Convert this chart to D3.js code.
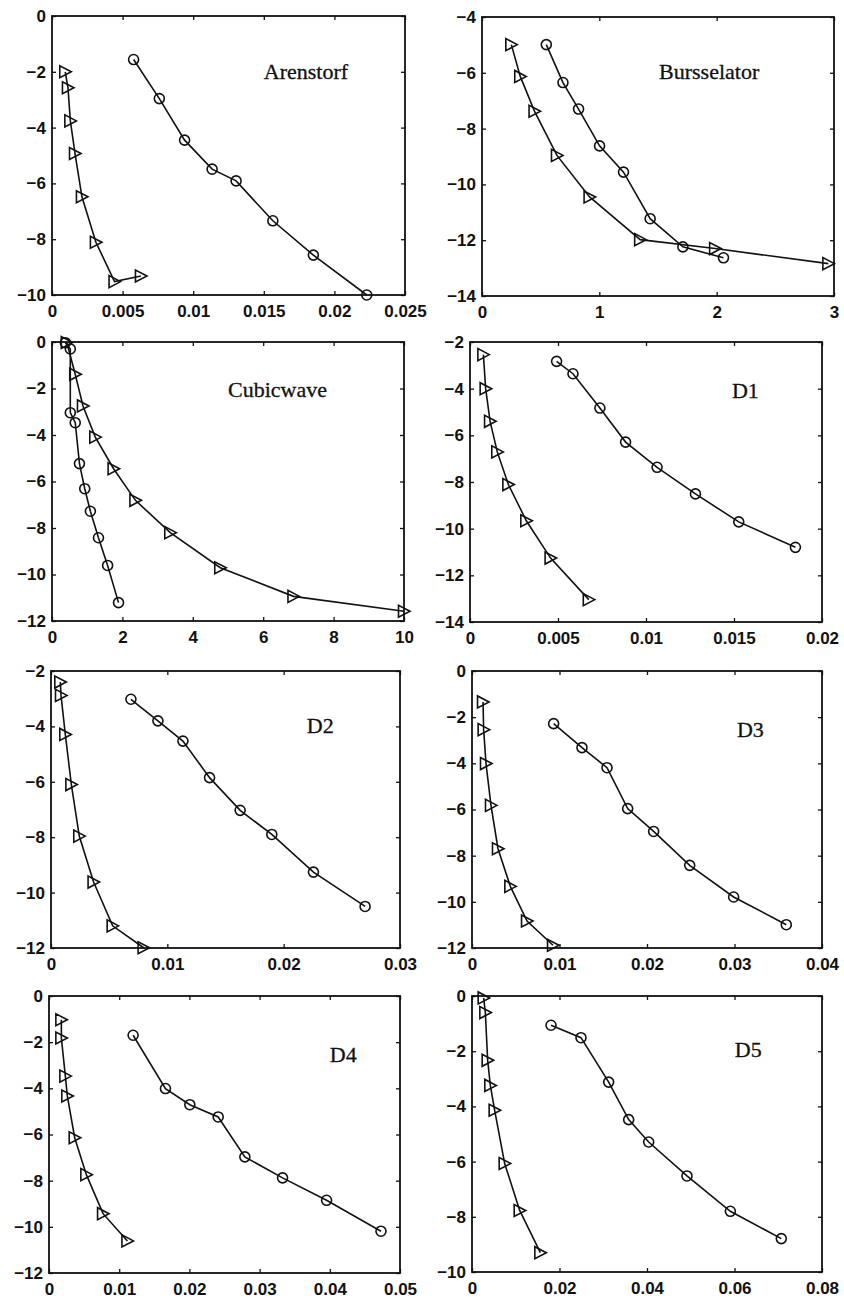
<!DOCTYPE html>
<html>
<head>
<meta charset="utf-8">
<script src="https://cdn.jsdelivr.net/npm/d3@7"></script>
<style>
  body { margin: 0; background: #fff; }
  .tick text { font-family: "Liberation Sans", Arial, sans-serif; font-size: 17px; font-weight: bold; fill: #111; }
  .label { font-family: "Liberation Serif", "Times New Roman", serif; font-size: 22px; fill: #111; stroke: #111; stroke-width: 0.3px; }
</style>
</head>
<body>
<svg id="chart"></svg>
<script>
// panel titles
var panelNames = ["Arenstorf", "Bursselator", "Cubicwave", "D1", "D2", "D3", "D4", "D5"];

// axis ranges and ticks, one per panel
var xDomains = [[0, 0.025], [0, 3], [0, 10], [0, 0.02], [0, 0.03], [0, 0.04], [0, 0.05], [0, 0.08]];
var yDomains = [[-10, 0], [-14, -4], [-12, 0], [-14, -2], [-12, -2], [-12, 0], [-12, 0], [-10, 0]];
var xTicks = [
  [0, 0.005, 0.01, 0.015, 0.02, 0.025],
  [0, 1, 2, 3],
  [0, 2, 4, 6, 8, 10],
  [0, 0.005, 0.01, 0.015, 0.02],
  [0, 0.01, 0.02, 0.03],
  [0, 0.01, 0.02, 0.03, 0.04],
  [0, 0.01, 0.02, 0.03, 0.04, 0.05],
  [0, 0.02, 0.04, 0.06, 0.08]
];
var yTicks = [
  [-10, -8, -6, -4, -2, 0],
  [-14, -12, -10, -8, -6, -4],
  [-12, -10, -8, -6, -4, -2, 0],
  [-14, -12, -10, -8, -6, -4, -2],
  [-12, -10, -8, -6, -4, -2],
  [-12, -10, -8, -6, -4, -2, 0],
  [-12, -10, -8, -6, -4, -2, 0],
  [-10, -8, -6, -4, -2, 0]
];

// series: [x, y] pairs, "o" and ">" markers
var arenstorfCircles = [[0.00578,-1.56],[0.0076,-2.96],[0.00939,-4.45],[0.01134,-5.49],[0.01304,-5.91],[0.01564,-7.34],[0.01851,-8.57],[0.02229,-10.0]];
var arenstorfTriangles = [[0.00094,-2.0],[0.00113,-2.57],[0.0013,-3.76],[0.00163,-4.93],[0.00212,-6.48],[0.00311,-8.11],[0.00443,-9.52],[0.0063,-9.32]];

var bursselatorCircles = [[0.548,-4.99],[0.69,-6.35],[0.823,-7.30],[1.002,-8.62],[1.206,-9.56],[1.433,-11.23],[1.712,-12.24],[2.058,-12.63]];
var bursselatorTriangles = [[0.25,-4.99],[0.326,-6.13],[0.448,-7.38],[0.639,-8.96],[0.917,-10.45],[1.348,-11.98],[1.987,-12.30],[2.952,-12.84]];

var cubicwaveCircles = [[0.38,-0.03],[0.52,-0.3],[0.52,-3.04],[0.66,-3.47],[0.78,-5.23],[0.93,-6.31],[1.09,-7.28],[1.32,-8.42],[1.58,-9.61],[1.89,-11.21]];
var cubicwaveTriangles = [[0.42,-0.02],[0.66,-1.39],[0.88,-2.75],[1.23,-4.09],[1.75,-5.45],[2.37,-6.81],[3.36,-8.2],[4.78,-9.71],[6.86,-10.94],[10.0,-11.58]];

var d1Circles = [[0.00492,-2.83],[0.00585,-3.36],[0.00738,-4.83],[0.00884,-6.29],[0.01063,-7.37],[0.01281,-8.51],[0.01527,-9.71],[0.01849,-10.8]];
var d1Triangles = [[0.00076,-2.54],[0.00089,-4.0],[0.00114,-5.4],[0.00155,-6.71],[0.00218,-8.11],[0.0032,-9.66],[0.00458,-11.26],[0.00675,-13.04]];

var d2Circles = [[0.00687,-3.02],[0.00919,-3.8],[0.01134,-4.53],[0.01363,-5.85],[0.01626,-7.03],[0.01898,-7.9],[0.02256,-9.26],[0.027,-10.5]];
var d2Triangles = [[0.0008,-2.4],[0.00086,-2.88],[0.00123,-4.29],[0.00175,-6.1],[0.00243,-7.96],[0.00366,-9.62],[0.0053,-11.2],[0.00796,-11.99]];

var d3Circles = [[0.00933,-2.28],[0.01257,-3.32],[0.01543,-4.19],[0.01779,-5.96],[0.02076,-6.95],[0.02488,-8.42],[0.0299,-9.79],[0.03592,-10.99]];
var d3Triangles = [[0.00126,-1.34],[0.00133,-2.54],[0.0016,-4.01],[0.00217,-5.82],[0.00297,-7.7],[0.00438,-9.33],[0.00629,-10.83],[0.00926,-11.88]];

var d4Circles = [[0.01198,-1.7],[0.01659,-4.01],[0.02006,-4.71],[0.0241,-5.24],[0.0279,-6.97],[0.03327,-7.88],[0.03954,-8.85],[0.04729,-10.19]];
var d4Triangles = [[0.00176,-1.03],[0.00176,-1.82],[0.00233,-3.47],[0.00261,-4.33],[0.00366,-6.14],[0.00532,-7.74],[0.0077,-9.43],[0.01117,-10.61]];

var d5Circles = [[0.01806,-1.06],[0.02491,-1.51],[0.03124,-3.12],[0.03581,-4.48],[0.04038,-5.29],[0.04914,-6.52],[0.05905,-7.8],[0.0707,-8.79]];
var d5Triangles = [[0.00267,-0.07],[0.00305,-0.6],[0.00358,-2.33],[0.00419,-3.24],[0.00518,-4.14],[0.00747,-6.07],[0.0109,-7.77],[0.01562,-9.3]];

var circleSeries = [arenstorfCircles, bursselatorCircles, cubicwaveCircles, d1Circles, d2Circles, d3Circles, d4Circles, d5Circles];
var triangleSeries = [arenstorfTriangles, bursselatorTriangles, cubicwaveTriangles, d1Triangles, d2Triangles, d3Triangles, d4Triangles, d5Triangles];

// layout: axes box [left, top, right, bottom] in px, label position as fraction of box
var boxes = [
  [52, 16, 405, 295], [482, 17, 834, 296],
  [52, 342, 404, 621], [470, 342, 822, 622],
  [51, 671, 400, 948], [472, 671, 822, 948],
  [49, 996, 400, 1273], [472, 996, 822, 1272]
];
var labelPos = [[0.60, 0.226], [0.503, 0.222], [0.50, 0.197], [0.744, 0.20], [0.733, 0.224], [0.757, 0.238], [0.80, 0.238], [0.751, 0.221]];

var svg = d3.select("#chart")
  .attr("width", 844)
  .attr("height", 1300)
  .style("background", "#fff");

var fmt = d3.format("~g");

panelNames.forEach(function(name, i)
{
  var b = boxes[i];
  var w = b[2] - b[0], h = b[3] - b[1];

  var x = d3.scaleLinear().domain(xDomains[i]).range([0, w]);
  var y = d3.scaleLinear().domain(yDomains[i]).range([h, 0]);

  var g = svg.append("g").attr("transform", "translate(" + b[0] + "," + b[1] + ")");

  // MATLAB style: inward ticks on all four sides
  g.append("g").attr("transform", "translate(0," + h + ")")
    .call(d3.axisBottom(x).tickValues(xTicks[i]).tickSize(-4).tickPadding(10).tickFormat(fmt));
  g.append("g")
    .call(d3.axisTop(x).tickValues(xTicks[i]).tickSize(-4).tickFormat(""));
  g.append("g")
    .call(d3.axisLeft(y).tickValues(yTicks[i]).tickSize(-4).tickPadding(6).tickFormat(fmt));
  g.append("g").attr("transform", "translate(" + w + ",0)")
    .call(d3.axisRight(y).tickValues(yTicks[i]).tickSize(-4).tickFormat(""));

  g.selectAll(".domain").remove();
  g.selectAll(".tick line").attr("stroke", "#111").attr("stroke-width", 1.3);

  g.append("rect")
    .attr("width", w).attr("height", h)
    .attr("fill", "none").attr("stroke", "#111").attr("stroke-width", 1.8);

  var line = d3.line()
    .x(function(d) { return x(d[0]); })
    .y(function(d) { return y(d[1]); });

  [circleSeries[i], triangleSeries[i]].forEach(function(s)
  {
    g.append("path").datum(s)
      .attr("d", line)
      .attr("fill", "none").attr("stroke", "#111").attr("stroke-width", 1.6);
  });

  g.selectAll(".circ").data(circleSeries[i]).enter()
    .append("circle")
    .attr("cx", function(d) { return x(d[0]); })
    .attr("cy", function(d) { return y(d[1]); })
    .attr("r", 5)
    .attr("fill", "none").attr("stroke", "#111").attr("stroke-width", 1.6);

  g.selectAll(".tri").data(triangleSeries[i]).enter()
    .append("path")
    .attr("d", function(d) {
      var cx = x(d[0]), cy = y(d[1]);
      return "M" + (cx + 6) + "," + cy + "L" + (cx - 5.5) + "," + (cy - 6) + "L" + (cx - 5.5) + "," + (cy + 6) + "Z";
    })
    .attr("fill", "none").attr("stroke", "#111").attr("stroke-width", 1.6);

  g.append("text")
    .attr("class", "label")
    .attr("x", labelPos[i][0] * w)
    .attr("y", labelPos[i][1] * h)
    .text(name);
});
</script>
</body>
</html>
